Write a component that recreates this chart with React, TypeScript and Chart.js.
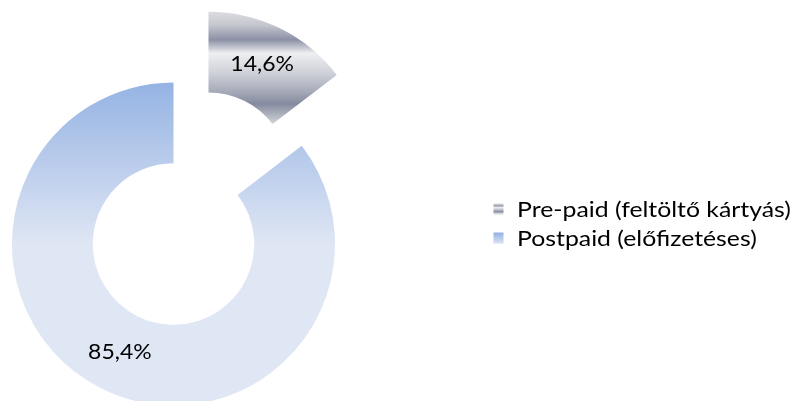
import React, { useEffect, useRef } from 'react';
import { Chart, registerables } from 'chart.js';

Chart.register(...registerables);

// ---- data ----
const categories = ['Pre-paid (feltöltő kártyás)', 'Postpaid (előfizetéses)'];
const shares = [14.6, 85.4];

// ---- style / layout ----
const W = 793;
const H = 401;
const OUTER_R = 161.5;
const CUTOUT = 0.5;
const EXPLODE = [79, 0];
const FONT = 'Lato, "Open Sans", sans-serif';
const LABEL_SIZE = 20.5;
const LABEL_STRETCH = 1.12;
const LEGEND_SIZE = 20.5;
const LEGEND_STRETCH = 1.21;
const LEGEND_X = 493.5;
const LEGEND_Y = 203.5;
const LEGEND_ROW = 29;
const LEGEND_BOX = 10;
const LEGEND_TEXT_X = 517;

const metalStops: [number, string][] = [
  [0.0, '#dcdde2'],
  [0.12, '#c4c6ce'],
  [0.25, '#8b90a5'],
  [0.37, '#eeeff1'],
  [0.55, '#cdd0d7'],
  [0.7, '#a9adbb'],
  [0.82, '#858b9f'],
  [1.0, '#d3d5db'],
];
const blueStops: [number, string][] = [
  [0, '#95b3e3'],
  [0.5, '#dfe6f4'],
  [1, '#dfe6f4'],
];
const blueLegendStops: [number, string][] = [
  [0, '#93b1e2'],
  [1, '#d3ddf2'],
];

function makeGrad(ctx: CanvasRenderingContext2D, y0: number, y1: number, stops: [number, string][]) {
  const g = ctx.createLinearGradient(0, y0, 0, y1);
  stops.forEach(([o, c]) => g.addColorStop(o, c));
  return g;
}

function stretchedText(ctx: CanvasRenderingContext2D, text: string, x: number, y: number, sx: number) {
  ctx.save();
  ctx.translate(x, y);
  ctx.scale(sx, 1);
  ctx.fillText(text, 0, 0);
  ctx.restore();
}

const total = shares.reduce((a, b) => a + b, 0);
const fmt = (v: number) => v.toFixed(1).replace('.', ',') + '%';

const explodePlugin = {
  id: 'explodeSlices',
  afterUpdate(chart: any) {
    const meta = chart.getDatasetMeta(0);
    meta.data.forEach((arc: any, i: number) => {
      const d = EXPLODE[i] || 0;
      if (!d || arc.__exploded) return;
      arc.__exploded = true;
      const orig = arc.draw.bind(arc);
      arc.draw = (ctx: CanvasRenderingContext2D, area: any) => {
        const mid = (arc.startAngle + arc.endAngle) / 2;
        ctx.save();
        ctx.translate(Math.cos(mid) * d, Math.sin(mid) * d);
        orig(ctx, area);
        ctx.restore();
      };
    });
  },
};

const labelPlugin = {
  id: 'sliceLabels',
  afterDatasetsDraw(chart: any) {
    const meta = chart.getDatasetMeta(0);
    const ctx = chart.ctx as CanvasRenderingContext2D;
    ctx.save();
    ctx.font = `${LABEL_SIZE}px ${FONT}`;
    ctx.fillStyle = '#000000';
    ctx.textAlign = 'center';
    ctx.textBaseline = 'middle';
    meta.data.forEach((arc: any, i: number) => {
      const { x, y, startAngle, endAngle, innerRadius, outerRadius } = arc;
      const mid = (startAngle + endAngle) / 2;
      const rr = (innerRadius + outerRadius) / 2 + (EXPLODE[i] || 0);
      stretchedText(ctx, fmt(shares[i]), x + Math.cos(mid) * rr, y + Math.sin(mid) * rr, LABEL_STRETCH);
    });
    ctx.restore();
  },
};

const legendPlugin = {
  id: 'customLegend',
  afterDraw(chart: any) {
    const ctx = chart.ctx as CanvasRenderingContext2D;
    ctx.save();
    ctx.font = `${LEGEND_SIZE}px ${FONT}`;
    ctx.textAlign = 'left';
    ctx.textBaseline = 'alphabetic';
    categories.forEach((name, i) => {
      const top = LEGEND_Y + i * LEGEND_ROW;
      ctx.fillStyle = makeGrad(ctx, top, top + LEGEND_BOX, i === 0 ? metalStops : blueLegendStops);
      ctx.fillRect(LEGEND_X, top, LEGEND_BOX, LEGEND_BOX + 1);
      ctx.fillStyle = '#000000';
      stretchedText(ctx, name, LEGEND_TEXT_X, top + 13.3, LEGEND_STRETCH);
    });
    ctx.restore();
  },
};

export default function App() {
  const ref = useRef<HTMLCanvasElement | null>(null);
  useEffect(() => {
    if (!ref.current) return;
    const chart = new Chart(ref.current, {
      type: 'doughnut',
      data: {
        labels: categories,
        datasets: [
          {
            data: shares,
            borderWidth: 0,
            clip: false as any,
            backgroundColor: (c: any) => {
              const ch = c.chart;
              const area = ch.chartArea;
              if (!area) return c.dataIndex === 0 ? '#a0a4b4' : '#c0cfee';
              const cy = (area.top + area.bottom) / 2;
              if (c.dataIndex === 0) {
                const endAng = (shares[0] / total) * Math.PI * 2;
                const yBottom = cy - OUTER_R * CUTOUT * Math.cos(endAng);
                return makeGrad(ch.ctx, cy - OUTER_R, yBottom, metalStops);
              }
              return makeGrad(ch.ctx, cy - OUTER_R, cy + OUTER_R, blueStops);
            },
          },
        ],
      },
      options: {
        responsive: false,
        animation: false,
        events: [],
        radius: OUTER_R,
        cutout: `${CUTOUT * 100}%`,
        layout: { padding: { left: 0, top: 87, right: 446, bottom: 0 } },
        plugins: {
          legend: { display: false },
          tooltip: { enabled: false },
        },
      } as any,
      plugins: [explodePlugin, labelPlugin, legendPlugin],
    });
    return () => chart.destroy();
  }, []);
  return (
    <div style={{ position: 'fixed', left: 0, top: 0, width: W, height: H, background: '#ffffff' }}>
      <canvas ref={ref} width={W} height={H} style={{ display: 'block', width: W, height: H }} />
    </div>
  );
}
